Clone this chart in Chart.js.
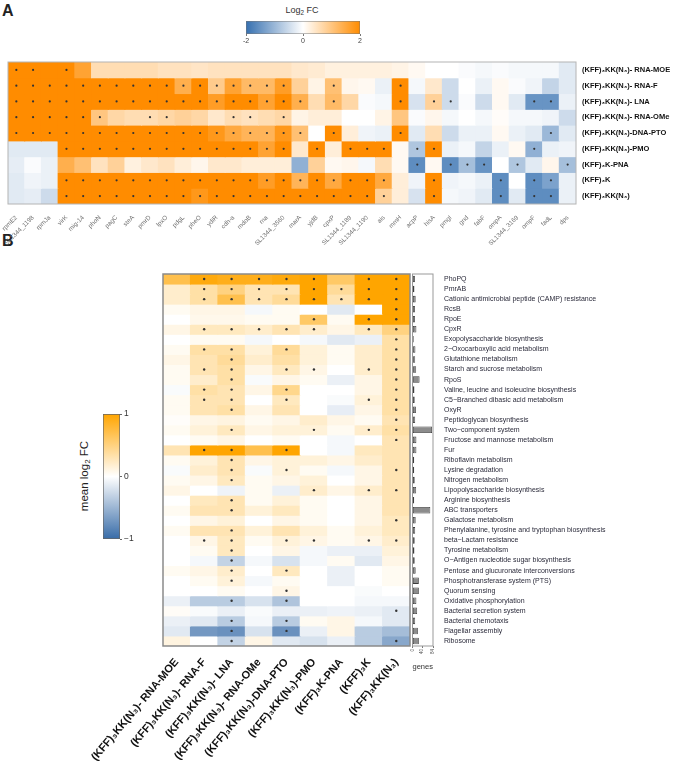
<!DOCTYPE html>
<html>
<head>
<meta charset="utf-8">
<script src="https://cdn.jsdelivr.net/npm/chart.js@4.4.1/dist/chart.umd.min.js"></script>
<style>
  body { margin: 0; width: 675px; height: 765px; position: relative; background: #fff; overflow: hidden;
         font-family: "Liberation Sans", Arial, sans-serif; }
  canvas { position: absolute; }
  .lbl { position: absolute; color: #222; white-space: nowrap; }
  .lbl sub { font-size: 70%; vertical-align: -2px; line-height: 0; }
</style>
</head>
<body>
<div class="lbl" style="left:2px;top:2px;font-weight:bold;font-size:16px;">A</div>
<div class="lbl" style="left:302px;top:5px;font-size:9px;transform:translateX(-50%);color:#333;">Log<sub>2</sub> FC</div>
<div class="lbl" style="left:2px;top:232px;font-weight:bold;font-size:16px;">B</div>
<div class="lbl" style="left:84px;top:476px;font-size:11.5px;transform:translate(-50%,-50%) rotate(-90deg);">mean log<sub>2</sub> FC</div>

<canvas id="cbarA" width="145" height="50" style="left:230px;top:0px;"></canvas>
<canvas id="heatA" width="675" height="250" style="left:0px;top:0px;"></canvas>
<canvas id="cbarB" width="70" height="150" style="left:80px;top:400px;"></canvas>
<canvas id="heatB" width="430" height="525" style="left:0px;top:240px;"></canvas>
<canvas id="genesB" width="275" height="432" style="left:400px;top:240px;"></canvas>

<script>
// ---------- shared labels ----------
var samples = ['(KFF)₃KK(N₃)- RNA-MOE', '(KFF)₃KK(N₃)- RNA-F', '(KFF)₃KK(N₃)- LNA', '(KFF)₃KK(N₃)- RNA-OMe',
               '(KFF)₃KK(N₃)-DNA-PTO', '(KFF)₃KK(N₃)-PMO', '(KFF)₃K-PNA', '(KFF)₃K', '(KFF)₃KK(N₃)'];

// ---------- panel A: log2 FC per gene, one array per construct ----------
var genesA = ['rpmE2', 'SL1344_1198', 'rpmJa', 'virK', 'mig-14', 'phoN', 'pagC', 'steA', 'pmrD', 'lpxO', 'pdgL',
              'pheO', 'ydiR', 'cdh-a', 'mdoB', 'rna', 'SL1344_3560', 'marA', 'yjdB', 'cpxP', 'SL1344_1189',
              'SL1344_1190', 'ais', 'mmH', 'acpP', 'hisA', 'pmgI', 'gnd', 'fabF', 'ompA', 'SL1344_3169', 'ompF', 'fadL', 'dps'];

var fcMOE = [2.5, 2.5, 2.5, 2.5, 1.6, 0.6, 0.6, 0.6, 0.6, 0.5, 0.5, 0.45, 0.5, 0.5, 0.5, 0.5, 0.5, 0.4, 0.35, 0.25,
             0.25, 0.25, 0.25, 0.2, 0.1, 0.0, 0.0, -0.05, -0.1, -0.05, -0.1, -0.1, -0.1, -0.3];
var fcF   = [2.5, 2.5, 2.5, 2.5, 2.5, 2.5, 2.5, 2.5, 2.5, 2.5, 1.4, 2.5, 0.9, 1.6, 1.2, 1.2, 1.7, 0.8, 0.2, 1.1,
             0.15, 0.1, -0.2, 2.5, -0.1, 0.4, -0.5, 0.0, -0.2, 0.1, -0.05, -0.15, -0.6, -0.3];
var fcLNA = [2.5, 2.5, 2.5, 2.5, 2.5, 2.5, 2.5, 2.5, 2.5, 2.5, 2.5, 2.5, 1.7, 2.5, 2.5, 1.6, 2.5, 1.4, 0.6, 1.2,
             0.7, -0.05, -0.1, 2.5, -0.4, 0.8, -0.5, -0.05, -0.5, 0.1, -0.3, -1.5, -1.5, -0.2];
var fcOMe = [2.5, 2.5, 2.5, 2.5, 2.5, 1.0, 0.7, 0.6, 0.6, 0.7, 0.8, 0.7, 0.4, 0.6, 0.5, 0.6, 0.7, 0.2, 0.3, 0.3,
             0.0, 0.0, 0.2, 1.0, -0.05, 0.15, -0.1, 0.0, -0.1, 0.05, -0.1, -0.1, -0.15, -0.5];
var fcPTO = [2.5, 2.5, 2.5, 2.5, 2.5, 2.5, 2.5, 2.5, 2.5, 2.5, 2.5, 2.5, 1.8, 1.5, 1.3, 1.3, 1.8, 1.1, 0.0, 2.5,
             0.3, -0.15, -0.2, 2.5, -0.3, 0.6, -0.5, -0.2, -0.2, 0.1, -0.2, -0.3, -1.0, -0.3];
var fcPMO = [-0.3, -0.3, -0.3, 2.5, 2.5, 2.5, 2.5, 2.5, 2.5, 2.5, 2.5, 2.5, 2.5, 2.5, 2.5, 1.6, 2.5, 0.4, 2.5, 0.3,
             2.5, 2.5, 2.5, 0.1, -0.8, 2.5, -0.2, -0.1, -0.6, -0.2, 0.1, -1.1, -0.2, -0.15];
var fcPNA = [-0.25, -0.05, -0.2, 1.4, 1.1, 0.5, 0.8, 0.25, 0.4, 0.5, 0.3, 0.15, 0.4, 0.4, 0.3, 0.3, 0.3, -1.1, 0.8, 0.1,
             0.15, -0.1, 0.6, 0.1, -1.6, 0.1, -1.6, -0.9, -1.5, 0.0, -0.8, -0.3, 0.15, -0.9];
var fcK   = [-0.3, -0.15, -0.2, 2.5, 2.5, 2.5, 2.5, 2.5, 2.5, 2.5, 2.5, 2.5, 2.5, 2.5, 2.5, 1.7, 2.5, 1.3, 2.5, 1.5,
             2.5, 2.5, 1.5, 0.3, -0.15, 2.5, -0.15, -0.1, -0.2, -1.6, 0.0, -1.6, -1.3, -0.2];
var fcKN3 = [-0.3, -0.25, -0.5, 2.5, 2.5, 2.5, 2.5, 2.5, 2.5, 2.5, 2.5, 1.8, 2.5, 2.5, 2.5, 2.5, 2.5, 2.5, 2.5, 2.5,
             2.5, 2.5, 0.8, 0.3, -0.4, 2.5, -0.1, -0.15, -0.3, -1.6, -0.3, -1.6, -1.6, -0.2];

// significant genes (column index) per construct
var sigMOE = [0, 1, 3];
var sigF   = [0, 1, 2, 3, 4, 5, 6, 7, 8, 9, 10, 11, 12, 13, 14, 15, 16, 19, 23];
var sigLNA = [0, 1, 2, 3, 4, 5, 6, 7, 8, 9, 10, 11, 12, 13, 14, 15, 16, 17, 19, 23, 25, 26, 31, 32];
var sigOMe = [0, 1, 2, 3, 4, 5, 8, 9, 13, 14, 16];
var sigPTO = [0, 1, 2, 3, 4, 5, 6, 7, 8, 9, 10, 11, 12, 13, 14, 15, 16, 17, 19, 23, 32];
var sigPMO = [3, 4, 5, 6, 7, 8, 9, 10, 11, 12, 13, 14, 15, 16, 18, 20, 21, 22, 24, 25, 31];
var sigPNA = [24, 26, 27, 28, 30, 33];
var sigK   = [3, 4, 5, 6, 7, 8, 9, 10, 11, 12, 13, 14, 15, 16, 17, 18, 19, 20, 21, 22, 25, 29, 31, 32];
var sigKN3 = [3, 4, 5, 6, 7, 8, 9, 10, 11, 12, 13, 14, 15, 16, 17, 18, 19, 20, 21, 22, 25, 29, 31, 32];

// ---------- panel B: mean log2 FC per pathway, one array per construct ----------
var pathwaysB = ['PhoPQ', 'PmrAB', 'Cationic antimicrobial peptide (CAMP) resistance', 'RcsB', 'RpoE', 'CpxR',
  'Exopolysaccharide biosynthesis', '2−Oxocarboxylic acid metabolism', 'Glutathione metabolism',
  'Starch and sucrose metabolism', 'RpoS', 'Valine, leucine and isoleucine biosynthesis',
  'C5−Branched dibasic acid metabolism', 'OxyR', 'Peptidoglycan biosynthesis', 'Two−component system',
  'Fructose and mannose metabolism', 'Fur', 'Riboflavin metabolism', 'Lysine degradation', 'Nitrogen metabolism',
  'Lipopolysaccharide biosynthesis', 'Arginine biosynthesis', 'ABC transporters', 'Galactose metabolism',
  'Phenylalanine, tyrosine and tryptophan biosynthesis', 'beta−Lactam resistance', 'Tyrosine metabolism',
  'O−Antigen nucleotide sugar biosynthesis', 'Pentose and glucuronate interconversions',
  'Phosphotransferase system (PTS)', 'Quorum sensing', 'Oxidative phosphorylation', 'Bacterial secretion system',
  'Bacterial chemotaxis', 'Flagellar assembly', 'Ribosome'];

var mMOE = [0.7, 0.2, 0.2, 0.05, 0.0, 0.1, 0.0, 0.05, 0.1, 0.05, 0.05, -0.03, 0.05, 0.05, 0.02, 0.05, 0.0, 0.3, 0.05,
            -0.03, 0.05, 0.1, 0.0, 0.05, 0.0, 0.05, 0.0, 0.0, 0.0, 0.05, 0.0, 0.0, -0.1, 0.03, -0.1, -0.15, 0.12];
var mF   = [0.95, 0.35, 0.35, 0.1, 0.08, 0.25, 0.05, 0.35, 0.3, 0.3, 0.2, 0.35, 0.3, 0.3, 0.1, 0.15, 0.05, 1.0, 0.15,
            0.2, 0.1, 0.0, 0.25, 0.3, 0.1, 0.3, 0.1, 0.05, -0.05, 0.1, 0.05, 0.0, -0.35, -0.03, -0.15, -0.7, 0.0];
var mLNA = [0.9, 0.5, 0.7, 0.1, 0.08, 0.25, 0.05, 0.35, 0.4, 0.35, 0.35, 0.3, 0.3, 0.35, 0.12, 0.25, 0.1, 1.0, 0.3,
            0.3, 0.25, -0.08, 0.3, 0.3, 0.15, 0.3, 0.25, 0.25, -0.3, 0.2, 0.15, 0.05, -0.35, -0.1, -0.35, -0.75, -0.3];
var mOMe = [0.9, 0.3, 0.3, -0.05, 0.05, 0.2, -0.05, 0.15, 0.2, 0.1, -0.03, 0.1, 0.0, 0.1, 0.05, 0.1, 0.0, 0.7, 0.1,
            -0.03, 0.05, 0.05, 0.05, 0.15, 0.0, 0.15, 0.05, 0.0, -0.05, 0.0, -0.05, 0.0, -0.2, -0.03, -0.05, -0.2, 0.1];
var mPTO = [0.95, 0.3, 0.4, 0.05, 0.05, 0.3, 0.0, 0.4, 0.35, 0.25, 0.1, 0.45, 0.25, 0.3, 0.1, 0.15, 0.05, 1.0, 0.15,
            0.15, 0.1, -0.1, 0.15, 0.25, 0.1, 0.3, 0.15, 0.1, -0.2, 0.25, 0.05, 0.1, -0.4, -0.1, -0.35, -0.75, -0.15];
var mPMO = [1.0, 1.0, 1.0, 0.0, 0.6, 0.2, -0.05, 0.15, 0.15, 0.1, 0.05, 0.0, 0.0, 0.0, 0.2, 0.15, 0.0, 0.0, 0.15,
            0.05, 0.15, 0.2, 0.05, 0.05, 0.05, 0.15, 0.1, -0.05, -0.05, 0.0, 0.0, 0.0, 0.0, -0.1, 0.05, -0.1, -0.2];
var mPNA = [0.6, 0.4, 0.3, -0.15, 0.05, 0.1, -0.15, 0.05, 0.05, 0.0, -0.1, 0.0, -0.03, -0.12, 0.1, 0.05, -0.05, -0.05,
            0.1, -0.05, 0.0, 0.1, 0.0, 0.0, 0.0, 0.05, 0.05, -0.1, 0.05, -0.1, -0.1, 0.0, 0.0, -0.08, 0.1, 0.1, -0.1];
var mK   = [1.0, 1.0, 1.0, 0.0, 1.0, 0.25, -0.1, 0.2, 0.2, 0.2, 0.1, 0.1, 0.15, 0.1, 0.05, 0.2, 0.0, 0.25, 0.2,
            0.1, 0.1, 0.2, 0.1, 0.1, 0.1, 0.15, 0.1, -0.1, -0.15, 0.0, 0.0, -0.03, -0.05, -0.1, -0.05, -0.35, -0.35];
var mKN3 = [1.0, 1.0, 1.0, 1.0, 1.0, 0.5, 0.35, 0.35, 0.35, 0.35, 0.35, 0.35, 0.35, 0.35, 0.3, 0.35, 0.3, 0.3, 0.3,
            0.3, 0.3, 0.3, 0.3, 0.3, 0.25, 0.25, 0.2, 0.15, 0.1, 0.05, 0.05, 0.0, -0.05, -0.15, -0.15, -0.45, -0.6];

// significant pathways (row index) per construct
var sMOE = [];
var sF   = [0, 1, 2, 5, 7, 9, 11, 12, 17, 26];
var sLNA = [0, 1, 2, 5, 7, 8, 9, 10, 11, 12, 13, 15, 17, 18, 19, 20, 22, 23, 25, 26, 27, 28, 29, 30, 32, 34, 35, 36];
var sOMe = [0, 1, 2, 5];
var sPTO = [0, 1, 2, 5, 7, 9, 11, 12, 17, 19, 26, 29, 31, 32, 34, 35];
var sPMO = [0, 1, 2, 4, 5, 9, 15, 21, 26];
var sPNA = [1, 2];
var sK   = [0, 1, 2, 4, 5, 9, 12, 15, 21, 26];
var sKN3 = [0, 1, 2, 3, 4, 5, 6, 7, 8, 9, 10, 11, 12, 13, 14, 15, 16, 19, 21, 24, 26, 33, 36];

// number of genes per pathway
var geneCounts = [10, 8, 13, 10, 10, 16, 5, 12, 11, 15, 29, 8, 9, 14, 11, 80, 16, 16, 7, 7, 9, 15, 7, 73, 13, 11,
                  9, 8, 9, 13, 26, 26, 16, 19, 11, 22, 26];

// ---------- helpers ----------
var ORANGE_A = [255, 140, 0], BLUE_A = [54, 112, 176];
var ORANGE_B = [255, 165, 0], BLUE_B = [56, 108, 168];

function heat(v, vmax, hi, lo) {
    var t = Math.max(-1, Math.min(1, v / vmax));
    var c = t >= 0 ? hi : lo, a = Math.abs(t);
    var mix = function (i) { return Math.round(255 + (c[i] - 255) * a); };
    return 'rgb(' + mix(0) + ',' + mix(1) + ',' + mix(2) + ')';
}
function rgb(c) { return 'rgb(' + c.join(',') + ')'; }

var framePlugin = {
    id: 'frame',
    afterDatasetsDraw: function (chart, args, opts) {
        var a = chart.chartArea, c = chart.ctx;
        c.save();
        c.strokeStyle = opts.color || '#999';
        c.lineWidth = opts.width || 1;
        c.strokeRect(a.left, a.top, a.right - a.left, a.bottom - a.top);
        c.restore();
    }
};

Chart.defaults.font.family = '"Liberation Sans", Arial, sans-serif';
Chart.defaults.animation = false;
Chart.defaults.plugins.legend.display = false;
Chart.defaults.plugins.tooltip.enabled = false;

function gradientFill(lo, hi, vertical) {
    return function (ctx) {
        var a = ctx.chart.chartArea;
        if (!a) return null;
        var g = vertical ? ctx.chart.ctx.createLinearGradient(0, a.bottom, 0, a.top)
                         : ctx.chart.ctx.createLinearGradient(a.left, 0, a.right, 0);
        g.addColorStop(0, rgb(lo));
        g.addColorStop(0.5, '#ffffff');
        g.addColorStop(1, rgb(hi));
        return g;
    };
}

// ---------- panel A colour bar ----------
new Chart(document.getElementById('cbarA'), {
    type: 'bar',
    data: { labels: [''], datasets: [{ data: [[-2, 2]], backgroundColor: gradientFill(BLUE_A, ORANGE_A, false),
            borderColor: '#777', borderWidth: 0.8, borderSkipped: false, barPercentage: 1, categoryPercentage: 1 }] },
    options: {
        responsive: false, indexAxis: 'y',
        layout: { padding: { left: 16, right: 15, top: 21, bottom: 0 } },
        scales: {
            y: { display: false },
            x: { min: -2, max: 2, grid: { drawOnChartArea: false, tickLength: 2, color: '#777' }, border: { display: false },
                 ticks: { stepSize: 2, font: { size: 7 }, color: '#444', padding: 1 },
                 afterFit: function (s) { s.height = 16; } }
        }
    }
});

// ---------- panel A heat map ----------
var seriesA = [fcMOE, fcF, fcLNA, fcOMe, fcPTO, fcPMO, fcPNA, fcK, fcKN3];
var sigA = [sigMOE, sigF, sigLNA, sigOMe, sigPTO, sigPMO, sigPNA, sigK, sigKN3];
var dsA = seriesA.map(function (vals, r) {
    return { type: 'bar', order: 2, data: vals.map(function () { return [r, r + 1]; }),
             backgroundColor: vals.map(function (v) { return heat(v, 2, ORANGE_A, BLUE_A); }),
             borderWidth: 0, inflateAmount: 0.5, grouped: false, barPercentage: 1, categoryPercentage: 1 };
});
var dotsA = [];
sigA.forEach(function (list, r) { list.forEach(function (c) { dotsA.push({ x: genesA[c], y: r + 0.5 }); }); });
dsA.push({ type: 'line', order: 0, data: dotsA, showLine: false, pointRadius: 1.1, pointBorderWidth: 0,
           pointBackgroundColor: '#333' });

new Chart(document.getElementById('heatA'), {
    type: 'bar',
    data: { labels: genesA, datasets: dsA },
    plugins: [framePlugin],
    options: {
        responsive: false,
        layout: { padding: { left: 8, top: 62, right: 0, bottom: 0 } },
        plugins: { frame: { color: '#b4b4b4', width: 1 } },
        scales: {
            x: { grid: { display: false }, border: { display: false },
                 ticks: { autoSkip: false, minRotation: 45, maxRotation: 45, font: { size: 6.3 }, color: '#707070', padding: 2 },
                 afterFit: function (s) { s.height = 46; } },
            y: { type: 'linear', min: 0, max: seriesA.length, reverse: true, position: 'right',
                 grid: { display: false, drawTicks: false }, border: { display: false },
                 afterBuildTicks: function (s) { s.ticks = samples.map(function (_, i) { return { value: i + 0.5 }; }); },
                 ticks: { autoSkip: false, padding: 6, color: '#111', font: { size: 7.5, weight: 'bold' },
                          callback: function (v, i) { return samples[i]; } },
                 afterFit: function (s) { s.width = 99; } }
        }
    }
});

// ---------- panel B colour bar ----------
new Chart(document.getElementById('cbarB'), {
    type: 'bar',
    data: { labels: [''], datasets: [{ data: [[-1, 1]], backgroundColor: gradientFill(BLUE_B, ORANGE_B, true),
            borderColor: '#666', borderWidth: 1, borderSkipped: false, barPercentage: 1, categoryPercentage: 1 }] },
    options: {
        responsive: false,
        layout: { padding: { left: 23, top: 14, bottom: 11, right: 0 } },
        scales: {
            x: { display: false },
            y: { min: -1, max: 1, position: 'right', grid: { drawOnChartArea: false, tickLength: 2, color: '#666' },
                 border: { display: false },
                 ticks: { stepSize: 1, font: { size: 8.5 }, color: '#333', padding: 2,
                          callback: function (v) { return v < 0 ? '−' + Math.abs(v) : String(v); } },
                 afterFit: function (s) { s.width = 30; } }
        }
    }
});

// ---------- panel B heat map ----------
var seriesB = [mMOE, mF, mLNA, mOMe, mPTO, mPMO, mPNA, mK, mKN3];
var sigB = [sMOE, sF, sLNA, sOMe, sPTO, sPMO, sPNA, sK, sKN3];
var dsB = pathwaysB.map(function (p, i) {
    return { type: 'bar', order: 2, data: seriesB.map(function () { return [i, i + 1]; }),
             backgroundColor: seriesB.map(function (s) { return heat(s[i], 1, ORANGE_B, BLUE_B); }),
             borderWidth: 0, inflateAmount: 0.5, grouped: false, barPercentage: 1, categoryPercentage: 1 };
});
var dotsB = [];
sigB.forEach(function (list, c) { list.forEach(function (i) { dotsB.push({ x: samples[c], y: i + 0.5 }); }); });
dsB.push({ type: 'line', order: 0, data: dotsB, showLine: false, pointRadius: 1.2, pointBorderWidth: 0,
           pointBackgroundColor: '#333' });

new Chart(document.getElementById('heatB'), {
    type: 'bar',
    data: { labels: samples, datasets: dsB },
    plugins: [framePlugin],
    options: {
        responsive: false,
        layout: { padding: { left: 163, top: 34, right: 20, bottom: 0 } },
        plugins: { frame: { color: '#8a8a8a', width: 1.5 } },
        scales: {
            x: { grid: { display: false }, border: { display: false },
                 ticks: { autoSkip: false, minRotation: 50, maxRotation: 50, color: '#111', padding: 2,
                          font: { size: 11, weight: 'bold' } },
                 afterFit: function (s) { s.height = 119; } },
            y: { type: 'linear', min: 0, max: pathwaysB.length, reverse: true, display: false }
        }
    }
});

// ---------- panel B gene counts + pathway names ----------
new Chart(document.getElementById('genesB'), {
    type: 'bar',
    data: { labels: pathwaysB, datasets: [{ data: geneCounts, backgroundColor: '#8c8c8c', borderColor: '#3a3a3a',
            borderWidth: 0.8, borderSkipped: false, barPercentage: 0.65, categoryPercentage: 1 }] },
    plugins: [framePlugin],
    options: {
        responsive: false, indexAxis: 'y',
        layout: { padding: { left: 12.5, top: 34, right: 0, bottom: 0 } },
        plugins: { frame: { color: '#999', width: 1 } },
        scales: {
            y: { position: 'right', grid: { display: false }, border: { display: false },
                 ticks: { autoSkip: false, padding: 3, color: '#2a2a3a', font: { size: 7 } },
                 afterFit: function (s) { s.width = 242; } },
            x: { min: 0, max: 84, grid: { drawOnChartArea: false, tickLength: 2, color: '#777' }, border: { display: false },
                 ticks: { stepSize: 20, minRotation: 90, maxRotation: 90, font: { size: 4.5 }, color: '#555', padding: 1 },
                 title: { display: true, text: 'genes', font: { size: 8 }, color: '#333', padding: 0 },
                 afterFit: function (s) { s.height = 26; } }
        }
    }
});
</script>
</body>
</html>
